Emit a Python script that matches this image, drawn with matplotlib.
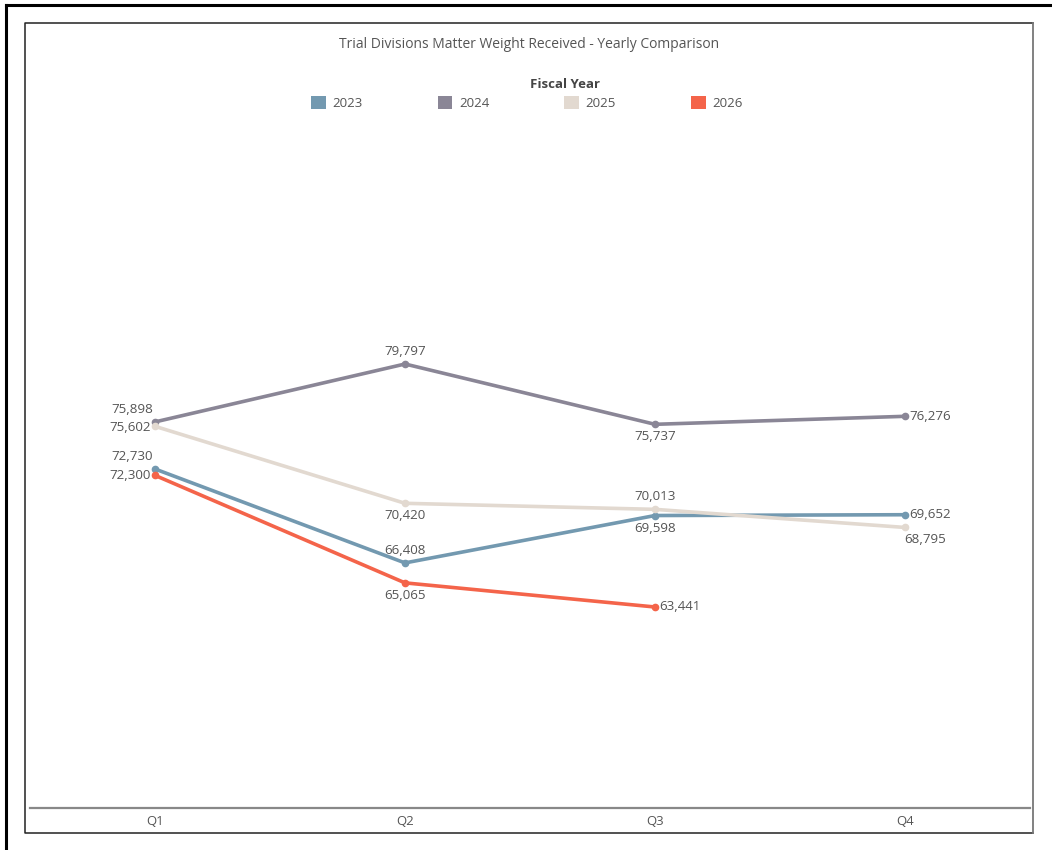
import matplotlib.pyplot as plt
from matplotlib.patches import Patch
from matplotlib.lines import Line2D

quarters = ['Q1', 'Q2', 'Q3', 'Q4']
years = ['2023', '2024', '2025', '2026']
fy2023 = [72730, 66408, 69598, 69652]
fy2024 = [75898, 79797, 75737, 76276]
fy2025 = [75602, 70420, 70013, 68795]
fy2026 = [72300, 65065, 63441]

colors = ['#7399b0', '#8a8696', '#e2d9d0', '#f4644a']
series = [fy2023, fy2024, fy2025, fy2026]

# label placement per point: (dx, dy, ha, va) in pixels
label_pos = [
    [(-2, 6, 'right', 'bottom'), (0, 6, 'center', 'bottom'), (0, -6, 'center', 'top'), (4, 0, 'left', 'center')],
    [(-2, 6, 'right', 'bottom'), (0, 6, 'center', 'bottom'), (0, -6, 'center', 'top'), (4, 0, 'left', 'center')],
    [(-4, -1, 'right', 'center'), (0, -6, 'center', 'top'), (0, 6, 'center', 'bottom'), (20, -6, 'center', 'top')],
    [(-4, 0, 'right', 'center'), (0, -6, 'center', 'top'), (4, 0, 'left', 'center')],
]

plt.rcParams['font.family'] = ['Open Sans', 'DejaVu Sans']
fig = plt.figure(figsize=(10.52, 8.5), dpi=100)

# borders (outer frame and inner sheet box)
fig.add_artist(Line2D([6 / 1052, 6 / 1052], [0, 1 - 5 / 850], color='black', lw=2.2))
fig.add_artist(Line2D([6 / 1052, 1], [1 - 5 / 850, 1 - 5 / 850], color='black', lw=2.2))
fig.add_artist(Line2D([1033 / 1052, 25 / 1052, 25 / 1052, 1033 / 1052],
                      [1 - 23 / 850, 1 - 23 / 850, 1 - 833 / 850, 1 - 833 / 850],
                      color='#222222', lw=1.1))
fig.add_artist(Line2D([1033 / 1052, 1033 / 1052], [1 - 23 / 850, 1 - 833 / 850],
                      color='#777777', lw=1.3))

ax = fig.add_axes([30 / 1052, 1 - 808 / 850, 1000 / 1052, 688 / 850])
x = list(range(len(quarters)))
for vals, col, places in zip(series, colors, label_pos):
    xs = x[:len(vals)]
    ax.plot(xs, vals, color=col, lw=2.6, marker='o', ms=4.5, solid_capstyle='round', zorder=3)
    for xi, v, (dx, dy, ha, va) in zip(xs, vals, places):
        ax.annotate(f'{v:,}', (xi, v), xytext=(dx, dy), textcoords='offset pixels',
                    ha=ha, va=va, fontsize=9.6, color='#555555')

ax.set_xlim(-0.5, 3.5)
ax.set_ylim(49912, 96220)
ax.set_xticks(x)
ax.set_xticklabels(quarters, fontsize=9.5, color='#555555')
ax.tick_params(axis='x', length=0, pad=5)
ax.set_yticks([])
for s in ['top', 'left', 'right']:
    ax.spines[s].set_visible(False)
ax.spines['bottom'].set_color('#888888')
ax.spines['bottom'].set_linewidth(1.6)

fig.text(529 / 1052, 1 - 45 / 850, 'Trial Divisions Matter Weight Received - Yearly Comparison',
         ha='center', va='center', fontsize=10, color='#555555')
fig.text(565 / 1052, 1 - 85 / 850, 'Fiscal Year', ha='center', va='center',
         fontsize=9.5, color='#444444', fontweight='bold')

handles = [Patch(facecolor=c, edgecolor='none') for c in colors]
fig.legend(handles, years, loc='center', bbox_to_anchor=(527 / 1052, 1 - 103 / 850), ncol=4,
           frameon=False, fontsize=9.5, labelcolor='#555555', handlelength=1.1, handleheight=1.1,
           handletextpad=0.5, columnspacing=5.7, borderpad=0)

fig.savefig('out.png', dpi=100)
